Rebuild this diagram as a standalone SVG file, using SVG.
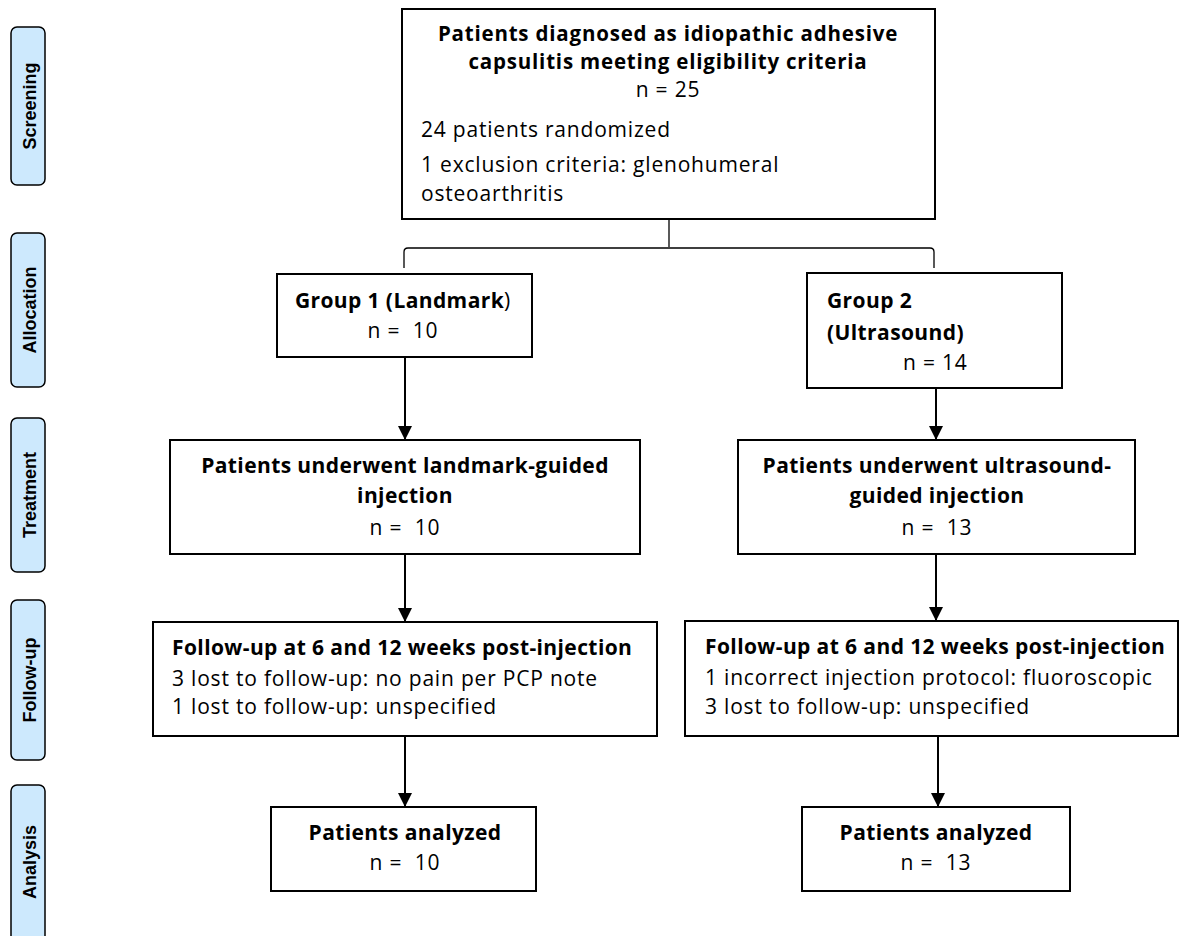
<svg xmlns="http://www.w3.org/2000/svg" width="1179" height="936" viewBox="0 0 1179 936">
<style>
.side rect{fill:#cde9fd;stroke:#000;stroke-width:1.5}
.side text{font-family:"Liberation Sans",Arial,sans-serif;font-weight:bold;font-size:18px;text-anchor:middle;fill:#000}
.box rect{fill:#fff;stroke:#000;stroke-width:2}
.box text{font-family:"Open Sans",Lato,sans-serif;font-size:21px;letter-spacing:0.8px;fill:#000}
.box text.b,.b{font-weight:bold;letter-spacing:0.4px}
.box text.t{font-size:20.5px;letter-spacing:0.8px}
.c{text-anchor:middle}
.conn path{fill:none;stroke:#000;stroke-width:2}
.conn .thin{stroke-width:1.3}
</style>
<defs>
<marker id="ah" markerWidth="14" markerHeight="14" refX="14" refY="7" orient="auto" markerUnits="userSpaceOnUse">
<path d="M0,0 L14,7 L0,14 z" fill="#000"/>
</marker>
</defs>
<rect width="1179" height="936" fill="#fff"/>
<g id="side-screening" class="side"><rect x="11" y="27" width="34" height="158" rx="6"/><text transform="translate(36,106) rotate(-90)">Screening</text></g>
<g id="side-allocation" class="side"><rect x="11" y="233" width="34" height="154" rx="6"/><text transform="translate(36,310) rotate(-90)">Allocation</text></g>
<g id="side-treatment" class="side"><rect x="11" y="418" width="34" height="154" rx="6"/><text transform="translate(36,495) rotate(-90)">Treatment</text></g>
<g id="side-followup" class="side"><rect x="11" y="600" width="34" height="160" rx="6"/><text transform="translate(36,680) rotate(-90)">Follow-up</text></g>
<g id="side-analysis" class="side"><rect x="11" y="785" width="34" height="160" rx="6"/><text transform="translate(36,862) rotate(-90)">Analysis</text></g>

<g id="connectors" class="conn">
<path class="thin" d="M669,219 V247"/>
<path class="thin" d="M404,268 V252 Q404,248 408,248 H930 Q934,248 934,252 V268"/>
<path d="M405,357 V440" marker-end="url(#ah)"/>
<path d="M405,554 V622" marker-end="url(#ah)"/>
<path d="M405,736 V807" marker-end="url(#ah)"/>
<path d="M936,388 V440" marker-end="url(#ah)"/>
<path d="M936,554 V621" marker-end="url(#ah)"/>
<path d="M938,736 V807" marker-end="url(#ah)"/>
</g>

<g id="screening" class="box"><rect x="402" y="9" width="533" height="210"/>
<text x="668" y="41" class="b c t">Patients diagnosed as idiopathic adhesive</text>
<text x="668" y="69" class="b c t">capsulitis meeting eligibility criteria</text>
<text x="668" y="97" class="c">n = 25</text>
<text x="421" y="137">24 patients randomized</text>
<text x="421" y="172">1 exclusion criteria: glenohumeral</text>
<text x="421" y="201">osteoarthritis</text>
</g>
<g id="group1" class="box"><rect x="277" y="274" width="255" height="83"/>
<text x="403" y="308" class="c"><tspan class="b">Group 1 (Landmark</tspan>)</text>
<text x="403" y="338" class="c" xml:space="preserve">n =  10</text>
</g>
<g id="group2" class="box"><rect x="807" y="273" width="255" height="115"/>
<text x="827" y="308" class="b">Group 2</text>
<text x="827" y="340" class="b">(Ultrasound)</text>
<text x="903" y="370">n = 14</text>
</g>
<g id="treat1" class="box"><rect x="170" y="440" width="470" height="114"/>
<text x="405" y="473" class="b c">Patients underwent landmark-guided</text>
<text x="405" y="503" class="b c">injection</text>
<text x="405" y="535" class="c" xml:space="preserve">n =  10</text>
</g>
<g id="treat2" class="box"><rect x="738" y="440" width="397" height="114"/>
<text x="937" y="473" class="b c">Patients underwent ultrasound-</text>
<text x="937" y="503" class="b c">guided injection</text>
<text x="937" y="535" class="c" xml:space="preserve">n =  13</text>
</g>
<g id="follow1" class="box"><rect x="153" y="622" width="504" height="114"/>
<text x="172" y="655" class="b">Follow-up at 6 and 12 weeks post-injection</text>
<text x="172" y="686">3 lost to follow-up: no pain per PCP note</text>
<text x="172" y="714">1 lost to follow-up: unspecified</text>
</g>
<g id="follow2" class="box"><rect x="685" y="621" width="493" height="115"/>
<text x="705" y="654" class="b">Follow-up at 6 and 12 weeks post-injection</text>
<text x="705" y="685">1 incorrect injection protocol: fluoroscopic</text>
<text x="705" y="714">3 lost to follow-up: unspecified</text>
</g>
<g id="analysis1" class="box"><rect x="271" y="807" width="265" height="84"/>
<text x="405" y="840" class="b c">Patients analyzed</text>
<text x="405" y="870" class="c" xml:space="preserve">n =  10</text>
</g>
<g id="analysis2" class="box"><rect x="802" y="807" width="268" height="84"/>
<text x="936" y="840" class="b c">Patients analyzed</text>
<text x="936" y="870" class="c" xml:space="preserve">n =  13</text>
</g>
</svg>
